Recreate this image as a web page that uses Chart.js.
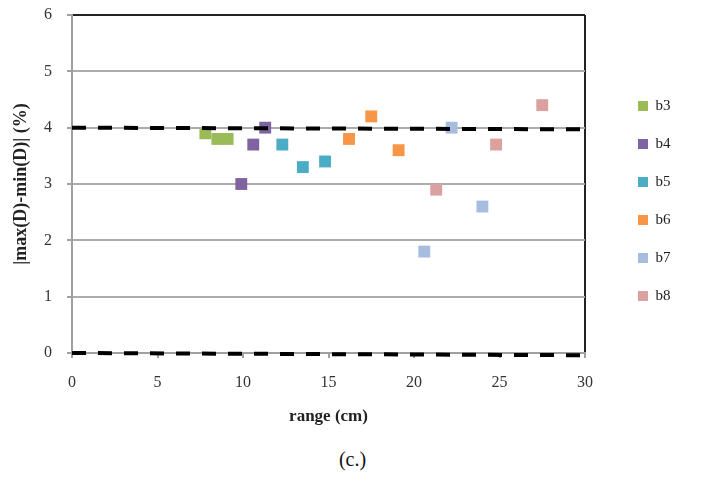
<!DOCTYPE html>
<html lang="en">
<head>
  <meta charset="UTF-8">
  <title>|max(D)-min(D)| vs range</title>
  <script src="https://cdn.jsdelivr.net/npm/chart.js"></script>
  <style>
    body { margin: 0; background: #fff; }
    .chart-container { position: absolute; left: 0; top: 0; width: 705px; height: 440px; }
    .caption {
      position: absolute; left: 0; top: 448px; width: 705px;
      text-align: center; font: 20px 'Liberation Serif', serif; color: #111;
    }
  </style>
</head>
<body>
  <div class="chart-container">
    <canvas id="rangeChart"></canvas>
  </div>
  <div class="caption">(c.)</div>

  <script>
    // series: range (cm) and |max(D)-min(D)| (%)
    const seriesNames = ['b3', 'b4', 'b5', 'b6', 'b7', 'b8'];
    const b3Range = [7.8, 8.5, 9.1];
    const b3Spread = [3.9, 3.8, 3.8];
    const b4Range = [9.9, 10.6, 11.3];
    const b4Spread = [3.0, 3.7, 4.0];
    const b5Range = [12.3, 13.5, 14.8];
    const b5Spread = [3.7, 3.3, 3.4];
    const b6Range = [16.2, 17.5, 19.1];
    const b6Spread = [3.8, 4.2, 3.6];
    const b7Range = [20.6, 22.2, 24.0];
    const b7Spread = [1.8, 4.0, 2.6];
    const b8Range = [21.3, 24.8, 27.5];
    const b8Spread = [2.9, 3.7, 4.4];

    // dashed reference lines (slightly tilted in the original)
    const limitRange = [0, 30];
    const upperLimit = [4.0, 3.97];
    const lowerLimit = [0.0, -0.04];

    const seriesColors = ['#9BBB59', '#8064A2', '#4BACC6', '#F79646', '#A7BDDF', '#DBA1A1'];
    const ranges = [b3Range, b4Range, b5Range, b6Range, b7Range, b8Range];
    const spreads = [b3Spread, b4Spread, b5Spread, b6Spread, b7Spread, b8Spread];

    const pairs = (xs, ys) => xs.map((x, i) => ({ x: x, y: ys[i] }));

    const datasets = seriesNames.map((name, i) => ({
      type: 'scatter',
      label: name,
      data: pairs(ranges[i], spreads[i]),
      backgroundColor: seriesColors[i],
      borderColor: seriesColors[i],
      borderWidth: 0,
      pointStyle: 'rect',
      pointRadius: 8.4,
      pointHoverRadius: 8.4
    }));

    [upperLimit, lowerLimit].forEach((vals, i) => {
      datasets.push({
        type: 'line',
        label: 'limit' + i,
        data: pairs(limitRange, vals),
        borderColor: '#000',
        borderWidth: 4,
        borderDash: [14, 12],
        pointRadius: 0,
        fill: false,
        clip: false,
        order: -1
      });
    });

    const serif = 'Liberation Serif';

    new Chart(document.getElementById('rangeChart'), {
      data: { datasets: datasets },
      options: {
        responsive: true,
        maintainAspectRatio: false,
        animation: false,
        layout: { padding: { top: 15, right: 24.5, bottom: 0, left: 0 } },
        plugins: {
          tooltip: { enabled: false },
          legend: {
            position: 'right',
            align: 'start',
            title: { display: true, text: ' ', font: { size: 10 }, padding: { top: 48.5, bottom: 0 } },
            labels: {
              filter: item => item.datasetIndex < seriesNames.length,
              boxWidth: 10,
              boxHeight: 10,
              padding: 23,
              color: '#222',
              font: { family: serif, size: 15 }
            }
          }
        },
        scales: {
          x: {
            type: 'linear',
            min: 0,
            max: 30,
            ticks: { stepSize: 5, color: '#333', padding: 15, font: { family: serif, size: 16 } },
            grid: {
              color: c => c.tick && c.tick.value === 30 ? '#222' : 'rgba(0,0,0,0)',
              lineWidth: 2,
              tickColor: '#a0a0a0',
              tickLength: 5
            },
            border: { color: '#a0a0a0', width: 2 },
            title: {
              display: true,
              text: 'range (cm)',
              color: '#222',
              padding: 12.8,
              font: { family: serif, size: 17, weight: 'bold' }
            },
            afterFit: s => { s.height = 87; }
          },
          y: {
            type: 'linear',
            min: 0,
            max: 6,
            ticks: { stepSize: 1, color: '#333', padding: 15, font: { family: serif, size: 16 } },
            grid: {
              color: c => c.tick && c.tick.value === 6 ? '#222' : '#ababab',
              lineWidth: 2,
              tickColor: '#a0a0a0',
              tickLength: 5
            },
            border: { color: '#a0a0a0', width: 2 },
            title: {
              display: true,
              text: '|max(D)-min(D)| (%)',
              color: '#222',
              padding: 10.3,
              font: { family: serif, size: 18, weight: 'bold' }
            },
            afterFit: s => { s.width = 72; s.paddingTop = 0; }
          },
          gap: {
            type: 'linear',
            position: 'right',
            ticks: { display: false },
            grid: { display: false },
            border: { display: false },
            afterFit: s => { s.width = 30; }
          }
        }
      }
    });
  </script>
</body>
</html>
